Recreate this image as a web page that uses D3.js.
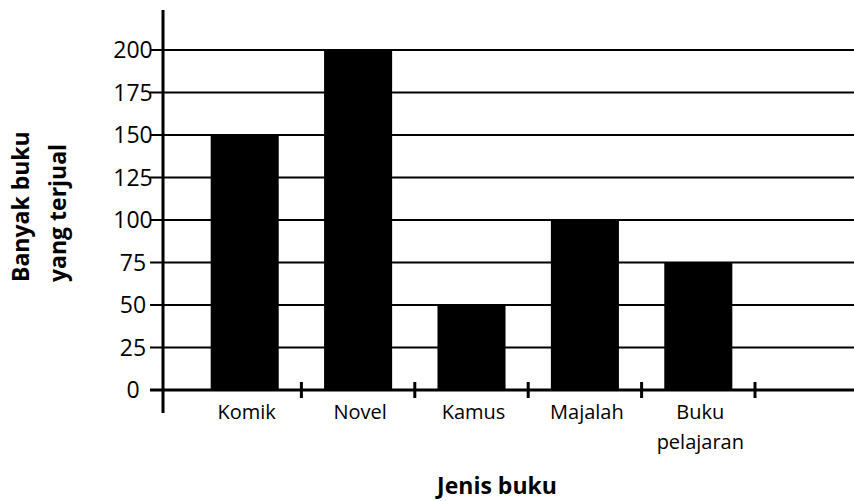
<!DOCTYPE html>
<html>
<head>
<meta charset="utf-8">
<script src="https://cdnjs.cloudflare.com/ajax/libs/d3/7.8.5/d3.min.js"></script>
<style>
	body { margin: 0; background: #fff; }
	svg { display: block; }
	text { font-family: "Open Sans", sans-serif; fill: #000; }
</style>
</head>
<body>
<svg width="854" height="501"></svg>
<script>
let categories = ["Komik", "Novel", "Kamus", "Majalah", "Buku pelajaran"];
let labelLines = [["Komik"], ["Novel"], ["Kamus"], ["Majalah"], ["Buku", "pelajaran"]];
let sold = [150, 200, 50, 100, 75];
let yTicks = [0, 25, 50, 75, 100, 125, 150, 175, 200];

let svg = d3.select("svg");

let x = d3.scaleBand()
	.domain(categories)
	.range([188, 755])
	.paddingInner(0.4)
	.paddingOuter(0.2);

let y = d3.scaleLinear()
	.domain([0, 200])
	.range([390, 50]);

let axisX = 163;

// grid lines (also the little ticks left of the axis)
svg.selectAll(".grid")
	.data(yTicks)
	.enter().append("line")
	.attr("class", "grid")
	.attr("x1", 150)
	.attr("x2", 854)
	.attr("y1", function(d) { return y(d); })
	.attr("y2", function(d) { return y(d); })
	.attr("stroke", "#000")
	.attr("stroke-width", function(d) { return d === 0 ? 3 : 2; });

svg.selectAll(".ylab")
	.data(yTicks)
	.enter().append("text")
	.attr("class", "ylab")
	.attr("x", 133)
	.attr("y", function(d) { return y(d); })
	.attr("dy", "0.36em")
	.attr("text-anchor", "middle")
	.style("font-size", "23px")
	.text(function(d) { return d; });

// bars
svg.selectAll(".bar")
	.data(sold)
	.enter().append("rect")
	.attr("class", "bar")
	.attr("x", function(d, i) { return x(categories[i]); })
	.attr("width", x.bandwidth())
	.attr("y", function(d) { return y(d); })
	.attr("height", function(d) { return y(0) - y(d); })
	.attr("fill", "#000");

// ticks on the x axis, at the band edges
let gap = x.step() * x.paddingInner() / 2;
svg.selectAll(".xtick")
	.data(categories)
	.enter().append("line")
	.attr("class", "xtick")
	.attr("x1", function(d) { return x(d) + x.bandwidth() + gap; })
	.attr("x2", function(d) { return x(d) + x.bandwidth() + gap; })
	.attr("y1", 382)
	.attr("y2", 398)
	.attr("stroke", "#000")
	.attr("stroke-width", 3);

// y axis line
svg.append("line")
	.attr("x1", axisX).attr("x2", axisX)
	.attr("y1", 10).attr("y2", 413)
	.attr("stroke", "#000")
	.attr("stroke-width", 3);

// category labels
let xl = svg.selectAll(".xlab")
	.data(labelLines)
	.enter().append("text")
	.attr("class", "xlab")
	.attr("text-anchor", "middle")
	.style("font-size", "20px");

xl.selectAll("tspan")
	.data(function(d, i) { return d.map(function(t) { return { t: t, c: categories[i] }; }); })
	.enter().append("tspan")
	.attr("x", function(d) { return x(d.c) + x.bandwidth() / 2 + 2; })
	.attr("y", function(d, j) { return 419 + j * 30; })
	.text(function(d) { return d.t; });

// axis titles
svg.append("text")
	.attr("text-anchor", "middle")
	.attr("x", 497)
	.attr("y", 494)
	.style("font-size", "23px")
	.style("font-weight", "bold")
	.text("Jenis buku");

let yt = svg.append("text")
	.attr("transform", "translate(0,282) rotate(-90)")
	.attr("text-anchor", "start")
	.style("font-size", "23px")
	.style("font-weight", "bold");

yt.append("tspan").attr("x", 0).attr("y", 29).text("Banyak buku");
yt.append("tspan").attr("x", 0).attr("y", 66).text("yang terjual");
</script>
</body>
</html>
